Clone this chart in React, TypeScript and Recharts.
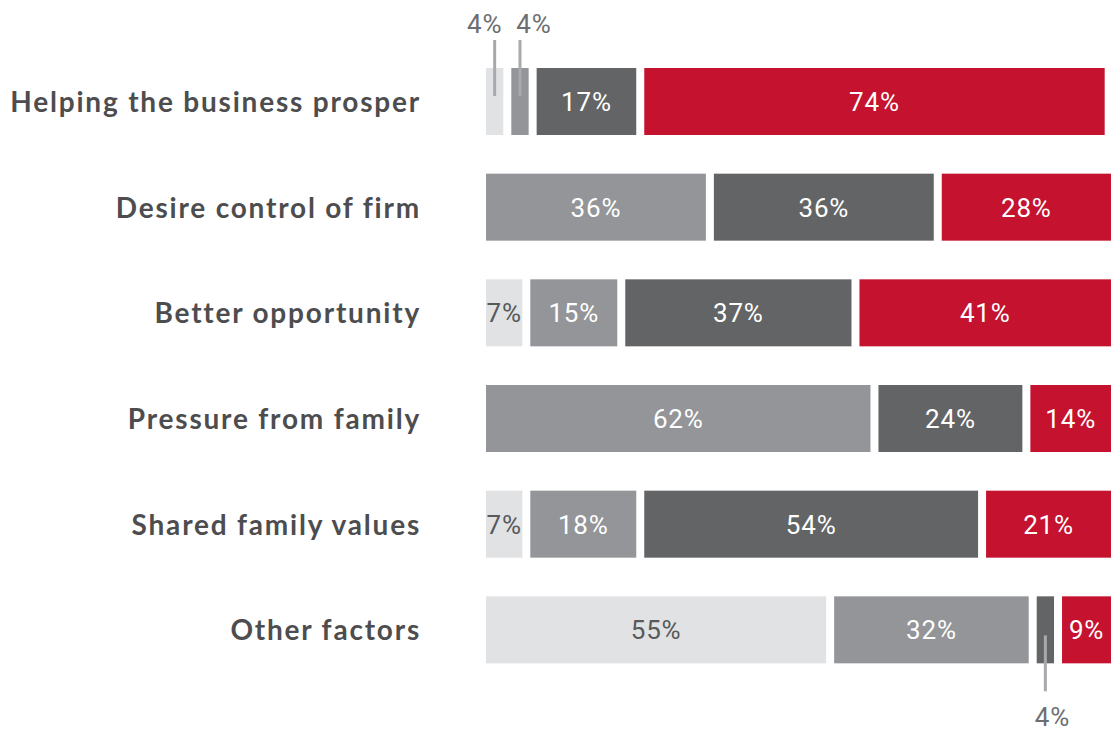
import React from "react";
import { BarChart, Bar, XAxis, YAxis, LabelList } from "recharts";

// -------------------------------
// Data
// -------------------------------
const categories = [
  "Helping the business prosper",
  "Desire control of firm",
  "Better opportunity",
  "Pressure from family",
  "Shared family values",
  "Other factors",
];
const lightValues = [4, 0, 7, 0, 7, 55];
const midValues = [4, 36, 15, 62, 18, 32];
const darkValues = [17, 36, 37, 24, 54, 4];
const redValues = [74, 28, 41, 14, 21, 9];

const data = categories.map((name, i) => ({
  name,
  light: lightValues[i],
  mid: midValues[i],
  dark: darkValues[i],
  red: redValues[i],
}));

const W = 1119;
const H = 731;
const GAP = 8;
const SMALL = 5; // values below this get an outside label with a leader line

const COLORS = {
  light: "#e1e2e4",
  mid: "#939598",
  dark: "#636466",
  red: "#c4122f",
};

// bar drawn with a white gap cut from its right side
const GapRect = (props: any) => {
  const { x, y, width, height, fill } = props;
  const w = width - GAP;
  if (!(w > 0)) return null;
  return <rect x={x} y={y} width={w} height={height} fill={fill} />;
};

const CategoryTick = (props: any) => {
  const { x, y, payload } = props;
  return (
    <text
      x={x}
      y={y}
      dy="0.36em"
      textAnchor="end"
      fill="#4d4d4f"
      fontFamily="Lato, 'Open Sans', sans-serif"
      fontWeight={700}
      fontSize={28}
      letterSpacing={1.8}
    >
      {payload.value}
    </text>
  );
};

const makeLabel = (color: string, shift: number) => (props: any) => {
  const { x, y, width, height, value, index } = props;
  if (!value) return null;
  const cx = x + (width - GAP) / 2;
  const font = {
    fontFamily: "Roboto, 'Open Sans', sans-serif",
    fontSize: 26,
    fontWeight: 400,
    letterSpacing: 0.8,
  };
  if (value < SMALL) {
    const above = index < categories.length / 2;
    const y1 = above ? y - 28 : y + height + 28;
    const y2 = above ? y + 28 : y + height - 28;
    const ty = above ? y - 35 : y + height + 63;
    return (
      <g>
        <line x1={cx} x2={cx} y1={y1} y2={y2} stroke="#a7a9ac" strokeWidth={3} />
        <text x={cx + shift} y={ty} textAnchor="middle" fill="#6d6e71" {...font}>
          {value}%
        </text>
      </g>
    );
  }
  return (
    <text
      x={cx}
      y={y + height / 2}
      dy="0.36em"
      textAnchor="middle"
      fill={color}
      {...font}
    >
      {value}%
    </text>
  );
};

export default function App() {
  return (
    <div
      style={{
        position: "absolute",
        left: 0,
        top: 0,
        width: W,
        height: H,
        background: "#fff",
      }}
    >
      <BarChart
        width={W}
        height={H}
        data={data}
        layout="vertical"
        margin={{ top: 49, right: 0, bottom: 48, left: 0 }}
        barCategoryGap={0}
      >
        <XAxis type="number" domain={[0, 100]} hide />
        <YAxis
          type="category"
          dataKey="name"
          width={486}
          axisLine={false}
          tickLine={false}
          tickSize={0}
          tickMargin={65}
          interval={0}
          tick={<CategoryTick />}
        />
        <Bar dataKey="light" stackId="a" fill={COLORS.light} barSize={67} shape={GapRect} isAnimationActive={false}>
          <LabelList dataKey="light" content={makeLabel("#58595b", -10)} />
        </Bar>
        <Bar dataKey="mid" stackId="a" fill={COLORS.mid} barSize={67} shape={GapRect} isAnimationActive={false}>
          <LabelList dataKey="mid" content={makeLabel("#ffffff", 14)} />
        </Bar>
        <Bar dataKey="dark" stackId="a" fill={COLORS.dark} barSize={67} shape={GapRect} isAnimationActive={false}>
          <LabelList dataKey="dark" content={makeLabel("#ffffff", 7)} />
        </Bar>
        <Bar dataKey="red" stackId="a" fill={COLORS.red} barSize={67} shape={GapRect} isAnimationActive={false}>
          <LabelList dataKey="red" content={makeLabel("#ffffff", 0)} />
        </Bar>
      </BarChart>
    </div>
  );
}
